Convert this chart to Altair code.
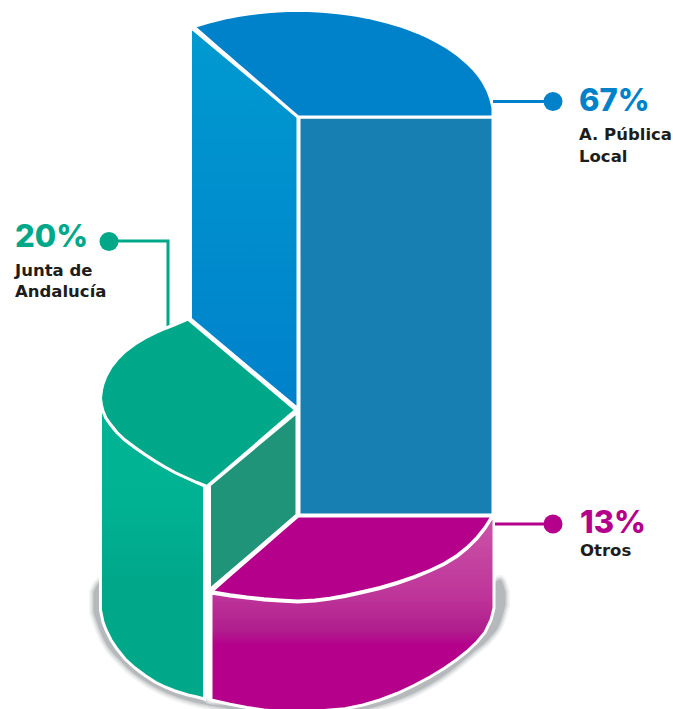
import altair as alt
import pandas as pd

# Shares shown in the callouts
shares = [67, 20, 13]
share_labels = [f"{v}%" for v in shares]

BLUE = "#0082CA"
GREEN = "#00A88A"
PURPLE = "#B4008B"
INK = "#1D1D1B"
HEAD_FONT = "Inter"
BODY_FONT = "DejaVu Sans"

# Outlines of the drawn solids, one (x, upper, lower) list per face
shadow_x = [94, 101, 123, 147, 173, 200, 210, 247, 300, 353, 380, 413, 447, 473, 490, 500, 505]
shadow_top = [592, 582, 600, 640, 670, 698, 705, 706, 707, 702, 692, 672, 650, 625, 590, 580, 592]
shadow_bot = [612, 632, 663, 682, 695, 703, 705, 711, 715, 711, 705, 693, 673, 652, 637, 622, 605]

plum_side_x = [211, 230, 247, 264, 280, 298, 315, 330, 345, 363, 380, 397, 414, 430, 444, 457, 467, 477, 485, 491, 494]
plum_side_top = [593, 596, 598, 600, 601, 602, 601, 599, 596.5, 592.5, 588.5, 583.5, 577.7, 571, 564.5, 556.5, 548.5, 538.5, 528.5, 519, 516]
plum_side_bot = [700, 704.3, 707.5, 710, 711.5, 712, 711.3, 710, 708.8, 705, 700, 693.5, 685.5, 677, 668.5, 659.5, 651.5, 642, 632.5, 620, 608]

plum_cap_x = [213, 230, 247, 264, 280, 298, 315, 330, 345, 363, 380, 397, 414, 430, 444, 457, 467, 477, 485, 491]
plum_cap_top = [590, 575.2, 560.4, 545.6, 531.7, 516, 516, 516, 516, 516, 516, 516, 516, 516, 516, 516, 516, 516, 516, 516]
plum_cap_bot = [592, 594.8, 597, 598.8, 600, 601, 600, 598.2, 595.4, 591.5, 587.5, 582.5, 576.7, 570.3, 563.5, 555.5, 547.5, 537.5, 527.5, 518]

green_side_x = [100.5, 103, 106, 111, 117, 125, 135, 145, 155, 165, 175, 188, 197, 204.5]
green_side_top = [400, 411, 418, 425, 432.5, 440, 447.5, 454.5, 461, 467, 472.5, 478.5, 482.5, 486]
green_side_bot = [610, 622, 630, 640, 649, 659, 668, 675.5, 682, 687, 691, 695, 697, 699]

green_cap_x = [100.5, 101.5, 103, 106, 111, 117, 125, 135, 145, 155, 165, 175, 188, 197, 207, 296]
green_cap_top = [398, 390, 384, 376, 367, 359.5, 351.5, 344, 338, 333, 328.5, 324.5, 319, 326.6, 335, 410]
green_cap_bot = [398, 405, 411, 418, 425, 432.5, 440, 447.5, 454.5, 461, 467, 472.5, 478.5, 482.5, 486.5, 410]

green_cut_x = [209.5, 297]
green_cut_top = [485, 412]
green_cut_bot = [590, 515]

blue_cut_x = [190.5, 298]
blue_cut_top = [27, 117]
blue_cut_bot = [319, 409]

blue_front_x = [299, 493]
blue_front_top = [117, 117]
blue_front_bot = [515, 515]

blue_cap_x = [194, 208, 218, 228, 238, 248, 258, 268, 278, 288, 298, 308, 318, 328, 338, 348, 358, 368, 378, 388, 398, 408, 418, 428, 438, 448, 458, 468, 473, 478, 483, 488, 491, 493]
blue_cap_top = [26.5, 22.2, 19.7, 17.4, 15.6, 14, 12.7, 11.7, 11, 10.6, 10.5, 10.6, 11, 11.7, 12.7, 14, 15.6, 17.4, 19.7, 22.2, 25.2, 28.6, 32.5, 37, 42.1, 48, 55, 63.6, 68.6, 74.5, 81.6, 91.1, 99.6, 108]
blue_cap_bot = [27, 39.1, 47.8, 56.4, 65.1, 73.7, 82.4, 91, 99.7, 108.3, 117, 117, 117, 117, 117, 117, 117, 117, 117, 117, 117, 117, 117, 117, 117, 117, 117, 117, 117, 117, 117, 117, 117, 117]

# Callout leaders and their dots
leader_blue_x, leader_blue_y = [493, 553], [101.5, 101.5]
leader_green_x, leader_green_y = [109, 168, 168], [241, 241, 328]
leader_plum_x, leader_plum_y = [495, 553], [524, 524]
dot_x = [553, 109, 553]
dot_y = [101.5, 241.5, 524]
dot_colors = [BLUE, GREEN, PURPLE]

# Callout text
head_x = [579, 15, 580]
head_y = [111, 247, 533]
body_text = ["A. Pública", "Local", "Junta de", "Andalucía", "Otros"]
body_x = [579, 579, 15, 15, 580]
body_y = [140, 162, 276, 297, 556]

sx = alt.Scale(domain=[0, 673], range=[0, 673], nice=False, zero=False)
sy = alt.Scale(domain=[0, 709], range=[0, 709], nice=False, zero=False)
X = alt.X("x:Q", scale=sx, axis=None)
Y = alt.Y("y:Q", scale=sy, axis=None)


def vgrad(stops):
    return alt.Gradient(
        gradient="linear", x1=0, y1=0, x2=0, y2=1,
        stops=[alt.GradientStop(offset=o, color=c) for o, c in stops],
    )


def face(xs, top, bot, fill, stroke="white", width=3.0, opacity=1.0, interpolate="linear"):
    df = pd.DataFrame({"x": xs, "y": top, "y2": bot})
    return alt.Chart(df).mark_area(
        fill=fill, stroke=stroke, strokeWidth=width, opacity=opacity,
        orient="vertical", interpolate=interpolate,
    ).encode(x=X, y=Y, y2="y2:Q")


def leader(xs, ys, color):
    df = pd.DataFrame({"x": xs, "y": ys, "i": range(len(xs))})
    return alt.Chart(df).mark_line(color=color, strokeWidth=3).encode(
        x=X, y=Y, order="i:O"
    )


# Soft ground shadow built from widening translucent outlines
shadow = [
    face(shadow_x, shadow_top, shadow_bot, "#A4A8AD", stroke="#A4A8AD", width=w, opacity=o, interpolate="monotone")
    for w, o in [(10, 0.12), (7, 0.18), (4, 0.3), (1, 0.6)]
]

plum_fade = vgrad([(0, "#CC55A8"), (0.4, "#BE3599"), (0.58, "#B01F8E"), (0.66, PURPLE), (1, PURPLE)])
green_fade = vgrad([(0, "#00B594"), (0.35, "#00B292"), (0.6, GREEN), (1, GREEN)])
blue_fade = vgrad([(0, "#009AD0"), (1, "#0081CB")])

faces = [
    face(plum_side_x, plum_side_top, plum_side_bot, plum_fade),
    face(plum_cap_x, plum_cap_top, plum_cap_bot, PURPLE),
    face(green_side_x, green_side_top, green_side_bot, green_fade),
    face(green_cut_x, green_cut_top, green_cut_bot, "#1F9478"),
    face(blue_cut_x, blue_cut_top, blue_cut_bot, blue_fade),
    face(blue_front_x, blue_front_top, blue_front_bot, "#187FB2"),
    face(blue_cap_x, blue_cap_top, blue_cap_bot, BLUE),
]

leaders = [
    leader(leader_blue_x, leader_blue_y, BLUE),
    leader(leader_green_x, leader_green_y, GREEN),
    leader(leader_plum_x, leader_plum_y, PURPLE),
]

green_cap = face(green_cap_x, green_cap_top, green_cap_bot, GREEN)

dots = alt.Chart(pd.DataFrame({"x": dot_x, "y": dot_y, "c": dot_colors})).mark_point(
    filled=True, size=361, opacity=1, shape="circle"
).encode(x=X, y=Y, color=alt.Color("c:N", scale=None))

heads = alt.Chart(
    pd.DataFrame({"x": head_x, "y": head_y, "t": share_labels, "c": dot_colors})
).mark_text(
    font=HEAD_FONT, fontSize=31, fontWeight=800, align="left", baseline="alphabetic"
).encode(x=X, y=Y, text="t:N", color=alt.Color("c:N", scale=None))

bodies = alt.Chart(
    pd.DataFrame({"x": body_x, "y": body_y, "t": body_text})
).mark_text(
    font=BODY_FONT, fontSize=16.5, fontWeight="bold", align="left", baseline="alphabetic", color=INK
).encode(x=X, y=Y, text="t:N")

chart = alt.layer(*shadow, *faces, *leaders, green_cap, dots, heads, bodies).properties(
    width=673,
    height=709,
    padding=0,
    autosize=alt.AutoSizeParams(type="none"),
    background="white",
).configure_view(stroke=None)

chart.save("out.html", embed_options={"renderer": "svg", "actions": False})
